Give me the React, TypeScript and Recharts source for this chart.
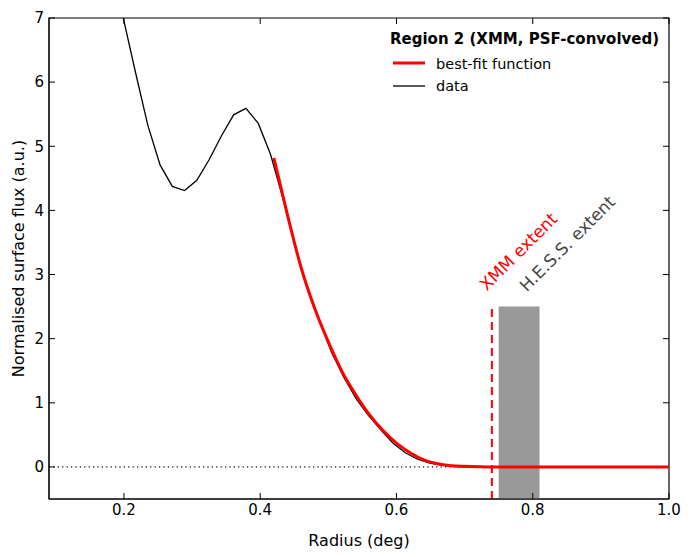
import { LineChart, Line, XAxis, YAxis, ReferenceLine, ReferenceArea } from 'recharts';

// radial profile, region 2
const dataRadius = [
  0.181, 0.199, 0.217, 0.235, 0.253, 0.271, 0.289, 0.307, 0.325, 0.343, 0.361, 0.379,
  0.397, 0.415, 0.433, 0.451, 0.469, 0.487, 0.505, 0.523, 0.541, 0.559, 0.577, 0.595,
  0.613, 0.631, 0.649, 0.667, 0.685, 0.703, 0.721, 0.739, 0.757, 0.775, 0.793, 0.811,
  0.829, 0.847, 0.865, 0.883, 0.901, 0.919, 0.937, 0.955, 0.973, 0.991,
];
const dataFlux = [
  7.95, 7.0, 6.15, 5.33, 4.71, 4.375, 4.31, 4.47, 4.79, 5.16, 5.49, 5.59,
  5.36, 4.88, 4.2, 3.45, 2.8, 2.27, 1.78, 1.39, 1.06, 0.8, 0.58, 0.37,
  0.22, 0.12, 0.06, 0.03, 0.01, 0.003, 0, 0, 0, 0, 0, 0,
  0, 0, 0, 0, 0, 0, 0, 0, 0, 0,
];

const fitRadius = [
  0.42, 0.44, 0.46, 0.48, 0.5, 0.52, 0.54, 0.56, 0.58, 0.6, 0.62, 0.64, 0.66, 0.68,
  0.7, 0.72, 0.74, 0.76, 0.8, 0.85, 0.9, 0.95, 1.0,
];
const fitFlux = [
  4.82, 3.93, 3.11, 2.47, 1.95, 1.49, 1.13, 0.82, 0.57, 0.37, 0.22, 0.11, 0.05, 0.02,
  0.01, 0.004, 0, 0, 0, 0, 0, 0, 0,
];

const xDomain = [0.09, 1.0];
const yDomain = [-0.5, 7];
const xTicks = [0.2, 0.4, 0.6, 0.8, 1.0];
const yTicks = [0, 1, 2, 3, 4, 5, 6, 7];

const xmmExtent = 0.74;
const hessExtent = [0.75, 0.81];
const markerTop = 2.5;

const dataRows = dataRadius.map((r, i) => ({ r, flux: dataFlux[i] }));
const fitRows = fitRadius.map((r, i) => ({ r, flux: fitFlux[i] }));

const FONT = "'DejaVu Sans', sans-serif";
const W = 691;
const H = 557;
const TICK_LEN = 6;

const tickStyle = { fill: '#000', fontSize: 15, fontFamily: FONT };

// inward tick marks on both ends of a full-height / full-width reference line
function VTickPair({ x1, y1, x2, y2 }: any) {
  const top = Math.min(y1, y2);
  const bottom = Math.max(y1, y2);
  return (
    <g stroke="#000" strokeWidth={1}>
      <line x1={x1} x2={x1} y1={top} y2={top + TICK_LEN} />
      <line x1={x1} x2={x1} y1={bottom} y2={bottom - TICK_LEN} />
    </g>
  );
}

function HTickPair({ x1, y1, x2 }: any) {
  const left = Math.min(x1, x2);
  const right = Math.max(x1, x2);
  return (
    <g stroke="#000" strokeWidth={1}>
      <line x1={left} x2={left + TICK_LEN} y1={y1} y2={y1} />
      <line x1={right} x2={right - TICK_LEN} y1={y1} y2={y1} />
    </g>
  );
}

function XTitle({ viewBox }: any) {
  return (
    <text x={viewBox.x + viewBox.width / 2} y={546} textAnchor="middle" fontSize={16} fontFamily={FONT} fill="#000">
      Radius (deg)
    </text>
  );
}

function YTitle({ viewBox }: any) {
  const cy = viewBox.y + viewBox.height / 2;
  return (
    <text
      x={18}
      y={cy}
      transform={`rotate(-90, 18, ${cy})`}
      textAnchor="middle"
      dominantBaseline="central"
      fontSize={16}
      fontFamily={FONT}
      fill="#000"
    >
      Normalised surface flux (a.u.)
    </text>
  );
}

function XmmLabel({ viewBox }: any) {
  const x = viewBox.x - 5;
  const y = viewBox.y - 15;
  return (
    <text x={x} y={y} transform={`rotate(-45, ${x}, ${y})`} fontSize={17} fontFamily={FONT} fill="#ff0000">
      XMM extent
    </text>
  );
}

function HessLabel({ viewBox }: any) {
  const x = viewBox.x + 28;
  const y = viewBox.y - 14;
  return (
    <text x={x} y={y} transform={`rotate(-45, ${x}, ${y})`} fontSize={17} fontFamily={FONT} fill="#444444">
      H.E.S.S. extent
    </text>
  );
}

export default function App() {
  return (
    <div style={{ position: 'absolute', left: 0, top: 0, width: W, height: H, background: '#fff' }}>
      <LineChart width={W} height={H} margin={{ top: 18, right: 22, bottom: 0, left: 0 }}>
        <XAxis
          dataKey="r"
          type="number"
          domain={xDomain}
          ticks={xTicks}
          allowDataOverflow
          height={58}
          stroke="#000"
          tickLine={false}
          tickSize={-6}
          tickMargin={11}
          tick={tickStyle}
          tickFormatter={(v: number) => v.toFixed(1)}
          label={<XTitle />}
        />
        <YAxis
          type="number"
          domain={yDomain}
          ticks={yTicks}
          allowDataOverflow
          width={49}
          stroke="#000"
          tickLine={false}
          tickSize={-6}
          tickMargin={11}
          tick={tickStyle}
          label={<YTitle />}
        />
        {/* plot frame */}
        <ReferenceArea
          x1={xDomain[0]}
          x2={xDomain[1]}
          y1={yDomain[0]}
          y2={yDomain[1]}
          fill="none"
          stroke="#000"
          strokeWidth={1.2}
        />
        {xTicks.map((t) => (
          <ReferenceLine key={`xt${t}`} x={t} stroke="none" shape={VTickPair} />
        ))}
        {yTicks.map((t) => (
          <ReferenceLine key={`yt${t}`} y={t} stroke="none" shape={HTickPair} />
        ))}
        <ReferenceArea
          x1={hessExtent[0]}
          x2={hessExtent[1]}
          y1={yDomain[0]}
          y2={markerTop}
          fill="#999999"
          fillOpacity={1}
          stroke="none"
          label={<HessLabel />}
        />
        <ReferenceLine
          segment={[
            { x: xmmExtent, y: yDomain[0] },
            { x: xmmExtent, y: markerTop },
          ]}
          stroke="#ff0000"
          strokeWidth={2}
          strokeDasharray="8 5"
          label={<XmmLabel />}
        />
        <ReferenceLine y={0} stroke="#000" strokeWidth={1.2} strokeDasharray="1.2 3.2" />
        <Line
          data={dataRows}
          dataKey="flux"
          type="linear"
          stroke="#000"
          strokeWidth={1.3}
          dot={false}
          isAnimationActive={false}
        />
        <Line
          data={fitRows}
          dataKey="flux"
          type="monotone"
          stroke="#ff0000"
          strokeWidth={3}
          dot={false}
          isAnimationActive={false}
        />
      </LineChart>
      <svg width={W} height={H} style={{ position: 'absolute', left: 0, top: 0, pointerEvents: 'none' }}>
        <text x={390} y={43.5} fontSize={15} fontWeight="bold" fontFamily={FONT} fill="#000">
          Region 2 (XMM, PSF-convolved)
        </text>
        <line x1={393} x2={425} y1={63} y2={63} stroke="#ff0000" strokeWidth={3} />
        <text x={436} y={68.5} fontSize={14.5} fontFamily={FONT} fill="#000">
          best-fit function
        </text>
        <line x1={393} x2={425} y1={86} y2={86} stroke="#000" strokeWidth={1.3} />
        <text x={436} y={91} fontSize={14.5} fontFamily={FONT} fill="#000">
          data
        </text>
      </svg>
    </div>
  );
}
